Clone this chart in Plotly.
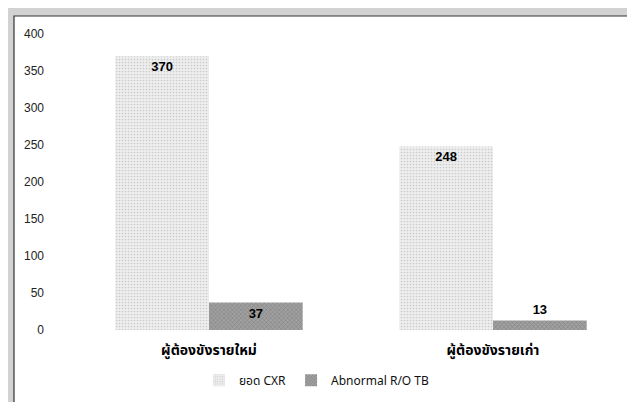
import plotly.graph_objects as go

categories = ["ผู้ต้องขังรายใหม่", "ผู้ต้องขังรายเก่า"]
series_names = ["ยอด CXR", "Abnormal R/O TB"]
cxr_values = [370, 248]
abnormal_values = [37, 13]
y_ticks = [0, 50, 100, 150, 200, 250, 300, 350, 400]

thai_font = "Noto Sans Thai, Tahoma, Leelawadee UI, Noto Sans, sans-serif"

fig = go.Figure()
fig.add_trace(go.Bar(
    x=categories, y=cxr_values, name=series_names[0],
    text=[str(v) for v in cxr_values],
    textposition="inside", insidetextanchor="end",
    textfont=dict(family="Arial, Liberation Sans", size=13, color="black", weight="bold"),
    marker=dict(color="#e4e4e4", line=dict(width=0),
                pattern=dict(shape=".", fgcolor="#a8a8a8", bgcolor="#eeeeee", size=3, solidity=0.25)),
))
fig.add_trace(go.Bar(
    x=categories, y=abnormal_values, name=series_names[1],
    text=[str(v) for v in abnormal_values],
    textposition=["inside", "outside"], insidetextanchor="end",
    textfont=dict(family="Arial, Liberation Sans", size=13, color="black", weight="bold"),
    cliponaxis=False,
    marker=dict(color="#8c8c8c", line=dict(width=0),
                pattern=dict(shape="x", fgcolor="#5a5a5a", bgcolor="#a0a0a0", size=3, solidity=0.3)),
))

# plot area in pixels: x 59..627, y 26..322 (height 296)
fig.add_shape(type="rect", xref="paper", yref="paper",
              x0=-0.0933, x1=1.0053, y0=-0.26, y1=1.0608,
              fillcolor="white", line=dict(color="#333333", width=1.2), layer="below")

fig.update_layout(
    width=635, height=402,
    margin=dict(l=59, r=8, t=26, b=80),
    paper_bgcolor="#d2d2d2",
    plot_bgcolor="rgba(0,0,0,0)",
    barmode="group", bargap=0.34, bargroupgap=0,
    font=dict(family="Arial, Liberation Sans", size=12, color="#222222"),
    showlegend=True,
    legend=dict(orientation="h", x=0.44, xanchor="center", y=-0.17, yanchor="middle",
                font=dict(family=thai_font, size=12, color="#111111"),
                itemwidth=30, bgcolor="rgba(0,0,0,0)"),
    xaxis=dict(showgrid=False, showline=False, ticks="", ticklabelstandoff=10,
               tickfont=dict(family=thai_font, size=14, color="black", weight="bold")),
    yaxis=dict(range=[0, 400], tickvals=y_ticks, showgrid=False, zeroline=False,
               showline=False, ticks="", ticklabelstandoff=22,
               tickfont=dict(family="Arial, Liberation Sans", size=12, color="#222222")),
)

fig.write_html("out.html")
